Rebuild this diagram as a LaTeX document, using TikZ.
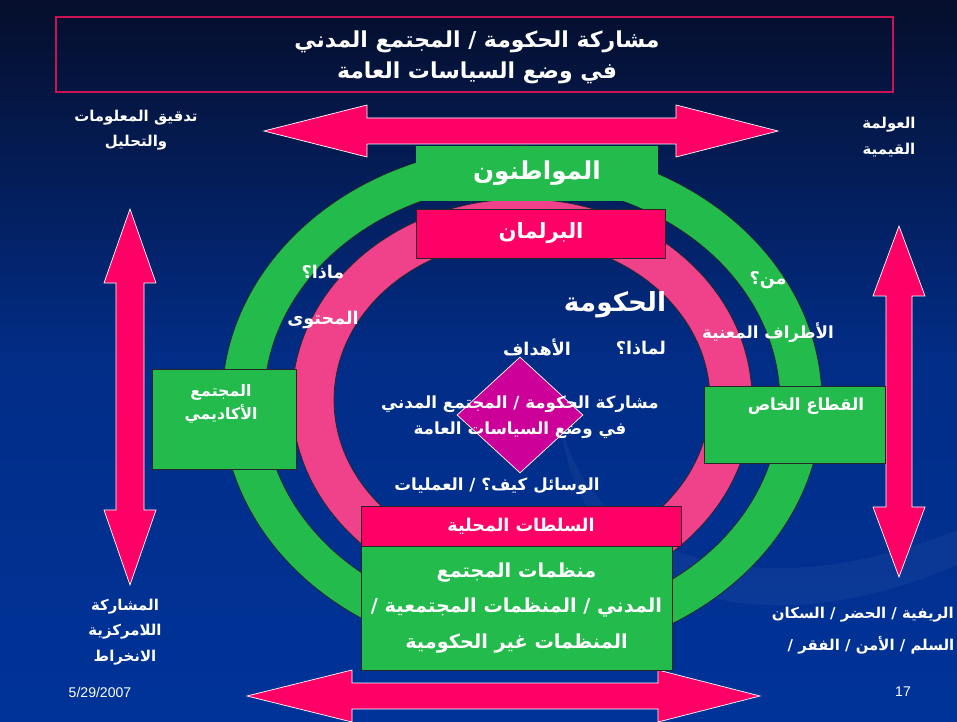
\documentclass[tikz,border=0pt]{standalone}
\usepackage{fontspec}
\setmainfont{Liberation Sans}
\newfontfamily\arabicfont[Script=Arabic]{DejaVu Sans}
\TeXXeTstate=1
\usetikzlibrary{shapes.geometric}

\definecolor{slideblue}{RGB}{0,51,153}
\definecolor{slidenavy}{RGB}{8,20,62}
\definecolor{ringgreen}{RGB}{34,187,76}
\definecolor{ringpink}{RGB}{239,66,138}
\definecolor{boxred}{RGB}{255,0,102}
\definecolor{diamondmag}{RGB}{204,0,153}
\definecolor{titleline}{RGB}{204,17,85}

\newcommand{\rl}[1]{\beginR #1\endR}

\begin{document}
\begin{tikzpicture}[x=0.02cm,y=-0.02cm]
  % Styles
  \tikzset{
    edge/.style={draw=black!85,line width=0.4pt},
    bigarrow/.style={fill=boxred,draw=white,line width=0.4pt},
    box/.style={rectangle,draw=black!85,line width=0.5pt,inner sep=0pt,
                text=white,align=center},
    lbl/.style={text=white,align=center,inner sep=0pt},
    ar/.style={font=\arabicfont\bfseries\fontsize{#1}{\dimexpr #1pt*3/2\relax}\selectfont},
  }

  % Helpers: horizontal / vertical double arrows
  % #1,#2 tips, #3 axis, #4,#5 head bases, #6 head half width, #7 shaft half width
  \newcommand{\harrow}[7]{%
    \filldraw[bigarrow] (#1,#3) -- (#4,#3-#6) -- (#4,#3-#7) -- (#5,#3-#7)
      -- (#5,#3-#6) -- (#2,#3) -- (#5,#3+#6) -- (#5,#3+#7) -- (#4,#3+#7)
      -- (#4,#3+#6) -- cycle;}
  \newcommand{\varrow}[7]{%
    \filldraw[bigarrow] (#3,#1) -- (#3-#6,#4) -- (#3-#7,#4) -- (#3-#7,#5)
      -- (#3-#6,#5) -- (#3,#2) -- (#3+#6,#5) -- (#3+#7,#5) -- (#3+#7,#4)
      -- (#3+#6,#4) -- cycle;}

  % Background
  \useasboundingbox (0,0) rectangle (957,722);
  \shade[top color=slidenavy!70!black,bottom color=slideblue,middle color=slideblue!80!slidenavy]
    (0,0) rectangle (957,722);
  % faint swoosh of the slide template
  \fill[white,opacity=0.045] (560,420) .. controls (590,560) and (760,610) .. (957,530)
    -- (957,565) .. controls (760,650) and (580,600) .. (560,420) -- cycle;

  % Title frame
  \draw[titleline,line width=0.8pt] (56,17) rectangle (893,92);
  \node[lbl,font=\arabicfont\bfseries\fontsize{12.5}{17.5}\selectfont] (title) at (477,57)
    {\rl{مشاركة الحكومة / المجتمع المدني}\\ \rl{في وضع السياسات العامة}};

  % Double arrows
  \harrow{264}{778}{131}{367}{676}{26}{13}
  \harrow{247}{760}{696}{352}{658}{26}{13}
  \varrow{209}{585}{130}{283}{510}{26}{14}
  \varrow{226}{577}{899}{296}{507}{26}{13}

  % Rings
  \fill[ringgreen,even odd rule] (522,402) ellipse [x radius=300,y radius=256]
    (522,402) ellipse [x radius=258,y radius=218];
  \draw[edge] (522,402) ellipse [x radius=300,y radius=256];
  \draw[edge] (522,402) ellipse [x radius=258,y radius=218];
  \fill[ringpink,even odd rule] (522,400) ellipse [x radius=230,y radius=201]
    (522,400) ellipse [x radius=188,y radius=160];
  \draw[edge] (522,400) ellipse [x radius=230,y radius=201];
  \draw[edge] (522,400) ellipse [x radius=188,y radius=160];

  % Boxes
  \node[box,draw=none,fill=ringgreen,minimum width=4.84cm,minimum height=1.1cm,ar=14]
    (citizens) at (537,173.5) {\rl{المواطنون}};
  \node[box,fill=boxred,minimum width=4.98cm,minimum height=0.98cm,ar=12]
    (parliament) at (541,233.5) {\rl{البرلمان}};
  \node[box,fill=ringgreen,minimum width=2.88cm,minimum height=2cm]
    (academia) at (224,419) {};
  \node[box,fill=ringgreen,minimum width=3.62cm,minimum height=1.54cm]
    (private) at (794.5,424.5) {};
  \node[box,fill=boxred,minimum width=6.4cm,minimum height=0.8cm,ar=10]
    (localgov) at (521,526) {\rl{السلطات المحلية}};
  \node[box,fill=ringgreen,minimum width=6.22cm,minimum height=2.48cm,
        font=\arabicfont\bfseries\fontsize{11}{20}\selectfont]
    (ngos) at (516.5,608)
    {\rl{منظمات المجتمع}\\ \rl{المدني / المنظمات المجتمعية /}\\ \rl{المنظمات غير الحكومية}};
  \node[diamond,draw=white!80,line width=0.4pt,fill=diamondmag,inner sep=0pt,
        minimum width=2.52cm,minimum height=2.32cm] (core) at (520,415) {};

  % Labels
  \node[lbl,ar=9] (academiatxt) at (221,404) {\rl{المجتمع}\\ \rl{الأكاديمي}};
  \node[lbl,ar=9.5] (privatetxt) at (806,406) {\rl{القطاع الخاص}};
  \node[lbl,ar=15] (govt) at (615,305) {\rl{الحكومة}};
  \node[lbl,ar=10] (what) at (323,272) {\rl{ماذا؟}};
  \node[lbl,ar=10] (content) at (323,320) {\rl{المحتوى}};
  \node[lbl,ar=10] (who) at (768,280) {\rl{من؟}};
  \node[lbl,ar=9.5] (actors) at (768,333) {\rl{الأطراف المعنية}};
  \node[lbl,ar=10] (goals) at (537,347) {\rl{الأهداف}};
  \node[lbl,ar=10] (why) at (641,348) {\rl{لماذا؟}};
  \node[lbl,font=\arabicfont\bfseries\fontsize{9.5}{15}\selectfont] (coretxt) at (520,417)
    {\rl{مشاركة الحكومة / المجتمع المدني}\\ \rl{في وضع السياسات العامة}};
  \node[lbl,ar=9.5] (how) at (497,486) {\rl{الوسائل كيف؟ / العمليات}};
  \node[lbl,font=\arabicfont\bfseries\fontsize{8.5}{14.5}\selectfont] (infotxt) at (136,130)
    {\rl{تدقيق المعلومات}\\ \rl{والتحليل}};
  \node[lbl,font=\arabicfont\bfseries\fontsize{8.5}{15}\selectfont] (globtxt) at (889,137)
    {\rl{العولمة}\\ \rl{القيمية}};
  \node[lbl,font=\arabicfont\bfseries\fontsize{8.5}{14.5}\selectfont] (parttxt) at (125,632)
    {\rl{المشاركة}\\ \rl{اللامركزية}\\ \rl{الانخراط}};
  \node[lbl,ar=8.5,anchor=east] (poptxt) at (954,615) {\rl{الريفية / الحضر / السكان}};
  \node[lbl,ar=8.5] (peacetxt) at (871,645) {\rl{السلم / الأمن / الفقر /}};

  % Footer
  \node[lbl,font=\fontsize{8}{10}\selectfont] (date) at (100,692) {5/29/2007};
  \node[lbl,font=\fontsize{8}{10}\selectfont] (pagenum) at (903,692) {17};
\end{tikzpicture}
\end{document}
